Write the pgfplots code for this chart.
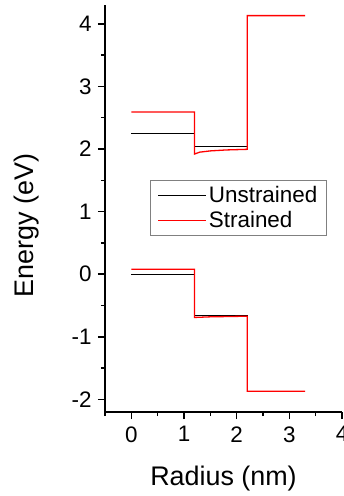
\documentclass[border=0pt]{standalone}
\usepackage{pgfplots}
\pgfplotsset{compat=1.18}
\usepackage{fontspec}
\setmainfont{Liberation Sans}

\begin{document}
\begin{tikzpicture}
\begin{axis}[
  scale only axis,
  width=237bp, height=407bp,
  xmin=-0.5, xmax=4, ymin=-2.2, ymax=4.3,
  axis x line=bottom, axis y line=left,
  axis line style={-, line width=1.5bp, black},
  xtick={0,1,2,3,4}, ytick={-2,-1,0,1,2,3,4},
  minor xtick={-0.5,0.5,1.5,2.5,3.5},
  minor ytick={-1.5,-0.5,0.5,1.5,2.5,3.5},
  tick align=outside,
  major tick length=7bp, minor tick length=4bp,
  every tick/.style={black, line width=1.5bp},
  /pgf/number format/assume math mode=true,
  tick label style={font=\fontsize{22.5}{26}\selectfont},
  xticklabel style={yshift=-4bp},
  yticklabel style={xshift=-3bp},
  xlabel={Radius (nm)}, ylabel={Energy (eV)},
  every axis x label/.style={at={(axis description cs:0.5,0)}, anchor=center,
    yshift=-67bp, font=\fontsize{27}{32}\selectfont},
  every axis y label/.style={at={(axis description cs:0,0.5)}, rotate=90, anchor=center,
    yshift=78bp, xshift=-17bp, font=\fontsize{27}{32}\selectfont},
  legend style={at={(axis cs:0.36,1.5)}, anchor=north west,
    draw=black!50, line width=0.7bp, font=\fontsize{22.5}{26}\selectfont,
    inner xsep=7bp, inner ysep=4bp, row sep=3bp,
    /tikz/every even column/.append style={column sep=4bp}},
  legend cell align=left,
  legend image code/.code={\draw[#1, line width=1.3bp] (0bp,0bp) -- (48bp,0bp);},
  clip=false,
]
\coordinate (sw) at (axis description cs:0,0);
\coordinate (ne) at (axis description cs:1,1);

% unstrained band edges
\addplot[black, line width=1.3bp] coordinates {
  (0,2.25) (1.2,2.25) (1.2,2.04) (2.2,2.04) (2.2,4.13) (3.3,4.13)};
\addlegendentry{Unstrained}
\addplot[black, line width=1.3bp, forget plot] coordinates {
  (0,0) (1.2,0) (1.2,-0.655) (2.2,-0.655) (2.2,-1.87) (3.3,-1.87)};

% strained band edges
\addplot[red, line width=1.3bp] coordinates {
  (0,2.59) (1.2,2.59) (1.2,1.92) (1.3,1.95) (1.5,1.97) (1.8,1.985) (2.2,1.995)
  (2.2,4.13) (3.3,4.13)};
\addlegendentry{Strained}
\addplot[red, line width=1.3bp, forget plot] coordinates {
  (0,0.08) (1.2,0.08) (1.2,-0.69) (1.5,-0.68) (2.2,-0.67) (2.2,-1.87) (3.3,-1.87)};
\end{axis}
\pgfresetboundingbox
\path[use as bounding box] ([xshift=-105bp,yshift=-84bp]sw) rectangle ([xshift=2bp,yshift=5bp]ne);
\end{tikzpicture}
\end{document}
